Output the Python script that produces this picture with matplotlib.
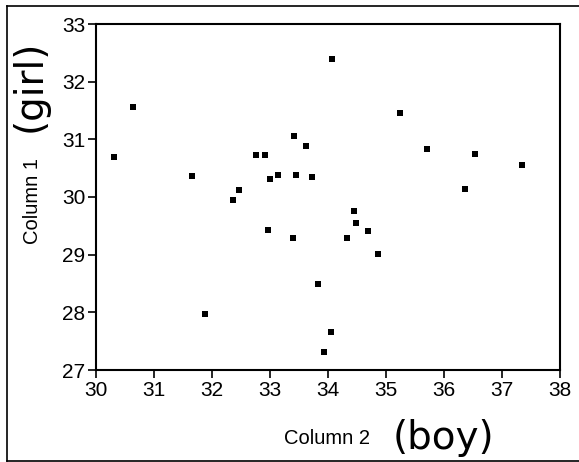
import matplotlib
matplotlib.use("Agg")
import matplotlib.pyplot as plt
from matplotlib.lines import Line2D

# Data (x = Column 2 (boy), y = Column 1 (girl))
col2_boy = [30.31, 30.64, 31.66, 31.88, 32.37, 32.47, 32.75, 32.91, 32.96, 33.00,
            33.14, 33.40, 33.42, 33.45, 33.62, 33.72, 33.82, 33.93, 34.06, 34.07,
            34.33, 34.45, 34.49, 34.69, 34.86, 35.24, 35.70, 36.36, 36.53, 37.34]
col1_girl = [30.69, 31.56, 30.37, 27.97, 29.94, 30.12, 30.72, 30.72, 29.42, 30.31,
             30.38, 29.29, 31.06, 30.38, 30.89, 30.35, 28.49, 27.31, 27.66, 32.39,
             29.29, 29.75, 29.55, 29.41, 29.01, 31.46, 30.83, 30.14, 30.75, 30.56]
x_ticks = [30, 31, 32, 33, 34, 35, 36, 37, 38]
y_ticks = [27, 28, 29, 30, 31, 32, 33]

W, H = 579, 462
fig = plt.figure(figsize=(W / 100, H / 100), dpi=100)
plt.rcParams['font.family'] = ['Liberation Sans', 'DejaVu Sans']

# outer scan frame (top, left, bottom edges)
def fl(x0, y0, x1, y1):
    fig.add_artist(Line2D([x0 / W, x1 / W], [1 - y0 / H, 1 - y1 / H],
                          transform=fig.transFigure, color='black', linewidth=1.2))
fl(7, 6, 579, 6)
fl(7, 6, 7, 461)
fl(7, 461, 579, 461)

left, right, top, bottom = 96, 560, 24, 370
ax = fig.add_axes([left / W, 1 - bottom / H, (right - left) / W, (bottom - top) / H])
ax.scatter(col2_boy, col1_girl, s=22, marker='s', color='black', linewidths=0)

ax.set_xlim(30, 38)
ax.set_ylim(27, 33)
ax.set_xticks(x_ticks)
ax.set_yticks(y_ticks)
ax.tick_params(direction='out', length=6, width=1.2, labelsize=15, colors='black')
ax.tick_params(axis='x', pad=2)
ax.tick_params(axis='y', pad=1.5)
for s in ax.spines.values():
    s.set_linewidth(1.5)

fig.text(327 / W, 1 - 438 / H, "Column 2", ha='center', va='center', fontsize=14.5)
fig.text(443 / W, 1 - 438 / H, "(boy)", ha='center', va='center', fontsize=28,
         family=['DejaVu Sans'])
fig.text(33 / W, 1 - 201 / H, "Column 1", ha='center', va='center', fontsize=14.5,
         rotation=90)
fig.text(30 / W, 1 - 86 / H, "(girl)", ha='center', va='center', fontsize=28,
         rotation=90, family=['DejaVu Sans'])

fig.savefig("out.png", dpi=100)
